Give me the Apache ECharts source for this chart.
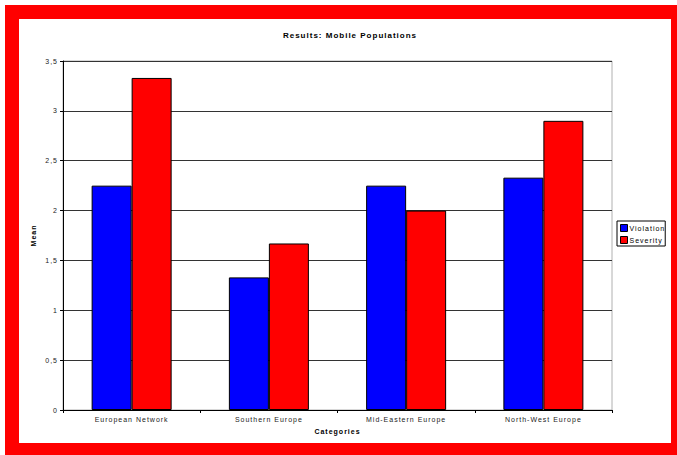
<!DOCTYPE html>
<html>
<head>
<meta charset="utf-8">
<script src="https://cdn.jsdelivr.net/npm/echarts@6/dist/echarts.min.js"></script>
<style>
html,body{margin:0;padding:0;background:#fff;overflow:hidden;}
#chart{position:absolute;left:0;top:0;width:677px;height:455px;}
#chart text{letter-spacing:1px;}
#frame{position:absolute;left:5px;top:5px;width:652px;height:424px;border:14px solid #ff0000;pointer-events:none;}
</style>
</head>
<body>
<div id="chart"></div>
<div id="frame"></div>
<script>
var categories = ["European Network", "Southern Europe", "Mid-Eastern Europe", "North-West Europe"];
var violation = [2.25, 1.33, 2.25, 2.33];
var severity = [3.33, 1.67, 2.0, 2.9];
var seriesNames = ["Violation", "Severity"];
var titleText = "Results: Mobile Populations";
var yAxisName = "Mean";
var xAxisName = "Categories";

var chart = echarts.init(document.getElementById('chart'), null, {renderer: 'svg'});
var font = 'Liberation Sans, Arial, sans-serif';
chart.setOption({
  animation: false,
  backgroundColor: '#fff',
  title: {
    text: titleText,
    left: 345, top: 26, textAlign: 'center',
    textStyle: {fontFamily: font, fontSize: 8, fontWeight: 'bold', color: '#000'}
  },
  legend: {
    orient: 'vertical',
    left: 617, top: 221,
    data: seriesNames,
    itemWidth: 7, itemHeight: 7, itemGap: 4,
    padding: [3, 9, 2, 3],
    borderColor: '#000', borderWidth: 1,
    icon: 'rect',
    textStyle: {fontFamily: font, fontSize: 7, color: '#000', padding: [0, 0, 0, -3]},
    itemStyle: {borderColor: '#000', borderWidth: 1}
  },
  grid: {
    left: 63, top: 61, right: 65, bottom: 45,
    show: true, borderColor: '#b0b0b0', borderWidth: 1, backgroundColor: 'transparent',
    containLabel: false
  },
  xAxis: {
    type: 'category',
    data: categories,
    name: xAxisName,
    nameLocation: 'middle', nameGap: 16,
    nameTextStyle: {fontFamily: font, fontSize: 7, fontWeight: 'bold', color: '#000'},
    axisLine: {lineStyle: {color: '#000', width: 1}},
    axisTick: {show: true, alignWithLabel: false, length: 3, lineStyle: {color: '#000'}},
    axisLabel: {fontFamily: font, fontSize: 7, color: '#222', margin: 6, interval: 0}
  },
  yAxis: {
    type: 'value',
    min: 0, max: 3.5, interval: 0.5,
    name: yAxisName,
    nameLocation: 'middle', nameGap: 24, nameRotate: 90,
    nameTextStyle: {fontFamily: font, fontSize: 7, fontWeight: 'bold', color: '#000'},
    axisLine: {show: true, lineStyle: {color: '#000', width: 1}},
    axisTick: {show: true, length: 3, lineStyle: {color: '#000'}},
    axisLabel: {fontFamily: font, fontSize: 7, color: '#222', margin: 5,
      formatter: function (v) { return String(v).replace('.', ','); }},
    splitLine: {show: true, lineStyle: {color: '#333', width: 1}}
  },
  series: [
    {name: seriesNames[0], type: 'bar', data: violation, barWidth: 40, barGap: '0%',
     itemStyle: {color: '#0000ff', borderColor: '#000', borderWidth: 1}},
    {name: seriesNames[1], type: 'bar', data: severity, barWidth: 40, barGap: '0%',
     itemStyle: {color: '#ff0000', borderColor: '#000', borderWidth: 1}}
  ]
});
</script>
</body>
</html>
